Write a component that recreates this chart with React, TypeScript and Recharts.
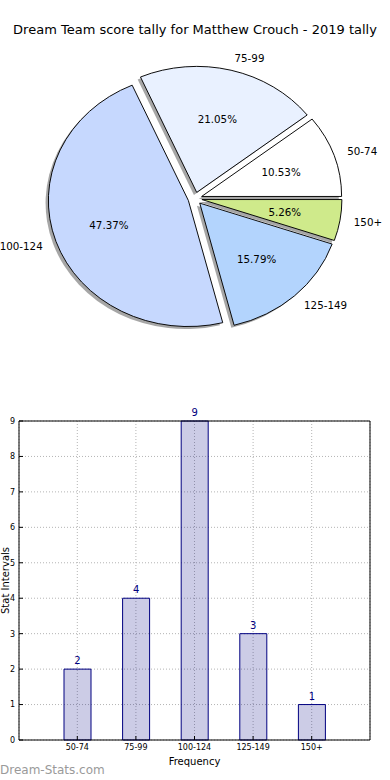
import React from 'react';
import { PieChart, Pie, Cell, Sector, BarChart, Bar, XAxis, YAxis, CartesianGrid, LabelList, ReferenceLine } from 'recharts';

const bins = ['50-74', '75-99', '100-124', '125-149', '150+'];
const counts = [2, 4, 9, 3, 1];
const sliceColors = ['#ffffff', '#e9f1ff', '#c6d8fe', '#b3d4fd', '#cfea8b'];
const yTicks = [0, 1, 2, 3, 4, 5, 6, 7, 8, 9];

const data = bins.map((name, i) => ({ name, count: counts[i] }));

const FONT = '"DejaVu Sans", sans-serif';
const RAD = Math.PI / 180;
const EXPLODE = 0.05;
const SQUASH = 0.9; // the source axes weren't square, so the pie is a bit flattened

// point at dist * r from the exploded slice origin, squashed vertically
const piePoint = (cx: number, cy: number, r: number, midAngle: number, dist: number) => {
  const c = Math.cos(-midAngle * RAD);
  const s = Math.sin(-midAngle * RAD);
  return { x: cx + (EXPLODE + dist) * r * c, y: cy + (EXPLODE + dist) * r * s * SQUASH };
};

const renderSlice = (shadow: boolean) => (props: any) => {
  const { cx, cy, outerRadius, startAngle, endAngle, midAngle, fill } = props;
  const p = piePoint(cx, cy, outerRadius, midAngle, 0);
  const sx = shadow ? -0.02 * outerRadius : 0;
  const sy = shadow ? 0.02 * outerRadius * SQUASH : 0;
  return (
    <g transform={`translate(${p.x + sx} ${p.y + sy}) scale(1 ${SQUASH}) translate(${-cx} ${-cy})`}>
      <Sector
        cx={cx}
        cy={cy}
        innerRadius={0}
        outerRadius={outerRadius}
        startAngle={startAngle}
        endAngle={endAngle}
        fill={shadow ? '#4d4d4d' : fill}
        fillOpacity={shadow ? 0.5 : 1}
        stroke={shadow ? 'none' : '#000'}
        strokeWidth={1}
      />
    </g>
  );
};

const renderPieLabel = (props: any) => {
  const { cx, cy, outerRadius, midAngle, percent, name } = props;
  const outer = piePoint(cx, cy, outerRadius, midAngle, 1.1);
  const inner = piePoint(cx, cy, outerRadius, midAngle, 0.6);
  const right = Math.cos(-midAngle * RAD) > 0;
  return (
    <g fontFamily={FONT} fontSize={10.3} fill="#000">
      <text x={outer.x} y={outer.y} textAnchor={right ? 'start' : 'end'} dominantBaseline="central">
        {name}
      </text>
      <text x={inner.x} y={inner.y} textAnchor="middle" dominantBaseline="central">
        {(percent * 100).toFixed(2)}%
      </text>
    </g>
  );
};

const renderYLabel = (props: any) => {
  const vb = props.viewBox || { x: 0, y: 0, height: 0 };
  const x = vb.x + 9;
  const y = vb.y + vb.height / 2;
  return (
    <text x={x} y={y} transform={`rotate(-90 ${x} ${y})`} textAnchor="middle" fontFamily={FONT} fontSize={10} fill="#000">
      Stat Intervals
    </text>
  );
};

export default function App() {
  return (
    <div style={{ position: 'absolute', left: 0, top: 0, width: 390, height: 780, background: '#fff', fontFamily: FONT }}>
      <div style={{ position: 'absolute', top: 22, left: 0, width: 390, textAlign: 'center', fontSize: 13, lineHeight: '16px', color: '#000' }}>
        Dream Team score tally for Matthew Crouch - 2019 tally
      </div>

      <div style={{ position: 'absolute', top: 0, left: 0 }}>
        <PieChart width={390} height={390} margin={{ top: 0, right: 0, bottom: 0, left: 0 }}>
          <Pie
            data={data}
            dataKey="count"
            nameKey="name"
            cx={195}
            cy={198.5}
            outerRadius={140}
            startAngle={0}
            endAngle={360}
            isAnimationActive={false}
            shape={renderSlice(true)}
            activeShape={renderSlice(true)}
            inactiveShape={renderSlice(true)}
            legendType="none"
          />
          <Pie
            data={data}
            dataKey="count"
            nameKey="name"
            cx={195}
            cy={198.5}
            outerRadius={140}
            startAngle={0}
            endAngle={360}
            isAnimationActive={false}
            shape={renderSlice(false)}
            activeShape={renderSlice(false)}
            inactiveShape={renderSlice(false)}
            label={renderPieLabel}
            labelLine={false}
          >
            {data.map((entry, i) => (
              <Cell key={`slice-${entry.name}`} fill={sliceColors[i]} />
            ))}
          </Pie>
        </PieChart>
      </div>

      <div style={{ position: 'absolute', top: 400, left: 0 }}>
        <BarChart width={390} height={380} data={data} margin={{ top: 21, right: 0, bottom: 0, left: 0 }} barSize={27}>
          <CartesianGrid stroke="#b4b4b4" strokeDasharray="1 2" />
          <XAxis
            dataKey="name"
            height={40}
            padding={{ left: 29, right: 29 }}
            interval={0}
            stroke="#000"
            tickSize={-4}
            tickMargin={8}
            tick={{ fontSize: 8, fill: '#000', fontFamily: FONT }}
            label={{ value: 'Frequency', position: 'insideBottom', offset: 15, fontSize: 10, fill: '#000', fontFamily: FONT }}
          />
          <YAxis
            domain={[0, 9]}
            ticks={yTicks}
            interval={0}
            width={19}
            stroke="#000"
            tickSize={-4}
            tickMargin={8}
            tick={{ fontSize: 8, fill: '#000', fontFamily: FONT }}
            label={renderYLabel}
          />
          <YAxis
            yAxisId="right"
            orientation="right"
            domain={[0, 9]}
            ticks={yTicks}
            interval={0}
            width={20}
            stroke="#000"
            tickSize={-4}
            tickFormatter={() => ''}
          />
          <Bar dataKey="count" fill="#000080" fillOpacity={0.2} stroke="#000080" strokeWidth={1} isAnimationActive={false}>
            <LabelList dataKey="count" position="top" fill="#000080" fontSize={10} fontFamily={FONT} />
          </Bar>
          <ReferenceLine y={9} stroke="#000" strokeWidth={1} />
        </BarChart>
      </div>

      <div style={{ position: 'absolute', top: 762, left: 0, fontSize: 12, lineHeight: '16px', color: '#9a9a9a' }}>
        Dream-Stats.com
      </div>
    </div>
  );
}
